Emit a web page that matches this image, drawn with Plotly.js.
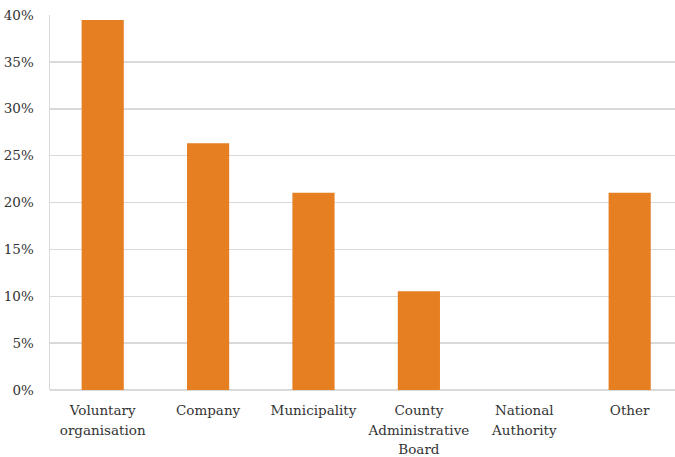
<!DOCTYPE html>
<html>
<head>
<meta charset="utf-8">
<script src="https://cdn.plot.ly/plotly-3.0.1.min.js"></script>
<style>
  html, body { margin: 0; padding: 0; background: #fff; }
  #chart { width: 675px; height: 457px; }
</style>
</head>
<body>
<div id="chart"></div>
<script>
// Share of respondents by type of organisation
const categories = [
  "Voluntary<br>organisation",
  "Company",
  "Municipality",
  "County<br>Administrative<br>Board",
  "National<br>Authority",
  "Other"
];
const shares = [0.3947, 0.2632, 0.2105, 0.1053, 0, 0.2105];
const yTickValues = [0, 0.05, 0.10, 0.15, 0.20, 0.25, 0.30, 0.35, 0.40];
const yTickLabels = ["0%", "5%", "10%", "15%", "20%", "25%", "30%", "35%", "40%"];

const serif = "DejaVu Serif";

// Category labels keep a roomy line height (from the 15px tick font)
// while the glyphs themselves are set a little smaller.
const categoryLabels = categories.map(c =>
  c.split("<br>").map(line => '<span style="font-size:13.5px">' + line + '</span>').join("<br>")
);

const trace = {
  type: "bar",
  x: [0, 1, 2, 3, 4, 5],
  y: shares,
  marker: { color: "#E67E22", line: { width: 0 } },
  hoverinfo: "skip"
};

const layout = {
  width: 675,
  height: 457,
  margin: { l: 50, r: 0, t: 15, b: 67 },
  paper_bgcolor: "#ffffff",
  plot_bgcolor: "#ffffff",
  bargap: 0.6,
  showlegend: false,
  font: { family: serif, size: 13, color: "#333333" },
  xaxis: {
    range: [-0.5, 5.43],
    tickmode: "array",
    tickvals: [0, 1, 2, 3, 4, 5],
    ticktext: categoryLabels,
    showgrid: false,
    zeroline: false,
    showline: false,
    ticks: "",
    ticklabelstandoff: 9,
    tickfont: { family: serif, size: 15, color: "#333333" }
  },
  yaxis: {
    range: [0, 0.40],
    tickmode: "array",
    tickvals: yTickValues,
    ticktext: yTickLabels,
    showgrid: true,
    gridcolor: "#d9d9d9",
    gridwidth: 1.5,
    zeroline: true,
    zerolinecolor: "#d9d9d9",
    zerolinewidth: 1.5,
    showline: true,
    linecolor: "#d9d9d9",
    linewidth: 1.5,
    ticks: "",
    ticklabelstandoff: 12,
    tickfont: { family: serif, size: 13.5, color: "#333333" }
  }
};

Plotly.newPlot("chart", [trace], layout, { staticPlot: true, displayModeBar: false });
</script>
</body>
</html>
